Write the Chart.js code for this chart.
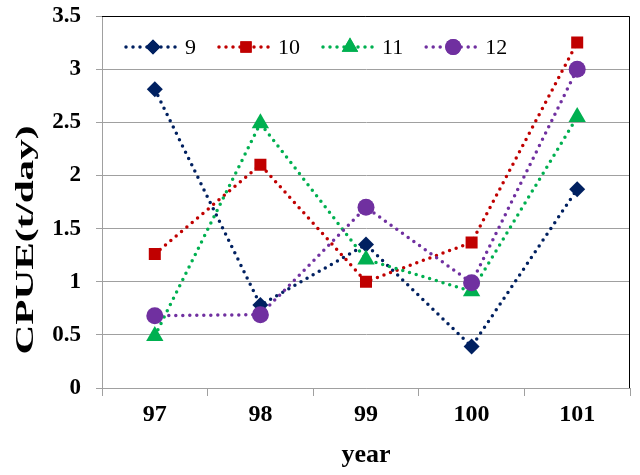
<!DOCTYPE html>
<html>
<head>
<meta charset="utf-8">
<script src="https://cdn.jsdelivr.net/npm/chart.js@4.4.0/dist/chart.umd.min.js"></script>
<style>
  html, body { margin: 0; padding: 0; background: #fff; }
  #wrap { width: 640px; height: 475px; }
</style>
</head>
<body>
<div id="wrap"><canvas id="cpue"></canvas></div>
<script>
'use strict';

var years = ['97', '98', '99', '100', '101'];
var seriesNames = ['9', '10', '11', '12'];
var cpue9 = [2.81, 0.78, 1.35, 0.39, 1.87];
var cpue10 = [1.26, 2.10, 1.00, 1.37, 3.25];
var cpue11 = [0.49, 2.49, 1.21, 0.91, 2.55];
var cpue12 = [0.68, 0.69, 1.70, 0.99, 3.00];
var yMin = 0;
var yMax = 3.5;
var yStep = 0.5;

var colors = ['#002060', '#c00000', '#00b050', '#7030a0'];
var markers = ['rectRot', 'rect', 'triangle', 'circle'];
var radii = [8, 8.5, 10, 8.5];
var allData = [cpue9, cpue10, cpue11, cpue12];

var serif = '"Liberation Serif", "Times New Roman", serif';

var datasets = [];
for (var i = 0; i < seriesNames.length; i++) {
  datasets.push({
    label: seriesNames[i],
    data: allData[i],
    borderColor: colors[i],
    backgroundColor: colors[i],
    borderWidth: 3.5,
    borderDash: [0, 7],
    borderCapStyle: 'round',
    pointStyle: markers[i],
    pointRadius: radii[i],
    pointHoverRadius: radii[i],
    pointBorderWidth: 0,
    pointBackgroundColor: colors[i],
    tension: 0,
    fill: false,
    order: seriesNames.length - i
  });
}

// legend sits inside the plot, dotted line with marker in the middle
var insideLegend = {
  id: 'insideLegend',
  afterDraw: function(chart) {
    var ctx = chart.ctx;
    var x0 = 126;
    var y = 47;
    ctx.save();
    for (var i = 0; i < datasets.length; i++) {
      ctx.strokeStyle = colors[i];
      ctx.lineWidth = 3.5;
      ctx.lineCap = 'round';
      ctx.setLineDash([0, 7]);
      ctx.beginPath();
      ctx.moveTo(x0, y);
      ctx.lineTo(x0 + 50, y);
      ctx.stroke();
      ctx.setLineDash([]);
      ctx.fillStyle = colors[i];
      Chart.helpers.drawPoint(ctx, {
        pointStyle: markers[i], radius: radii[i] - 0.5, rotation: 0, borderWidth: 0
      }, x0 + 27, y);
      ctx.fill();
      ctx.fillStyle = '#000';
      ctx.font = '22px ' + serif;
      ctx.textAlign = 'left';
      ctx.textBaseline = 'middle';
      ctx.fillText(seriesNames[i], x0 + 59, y + 1);
      x0 = x0 + 59 + ctx.measureText(seriesNames[i]).width + 23;
    }
    ctx.restore();
  }
};

// black top and right edge of the plot, tall y title
var frame = {
  id: 'frame',
  afterDraw: function(chart) {
    var a = chart.chartArea;
    var ctx = chart.ctx;
    ctx.save();
    ctx.strokeStyle = '#000';
    ctx.lineWidth = 1;
    ctx.beginPath();
    ctx.moveTo(a.left, a.top + 0.5);
    ctx.lineTo(a.right - 0.5, a.top + 0.5);
    ctx.lineTo(a.right - 0.5, a.bottom);
    ctx.stroke();

    ctx.translate(27, 240);
    ctx.rotate(-Math.PI / 2);
    ctx.scale(1.65, 1);
    ctx.font = 'bold 25px ' + serif;
    ctx.fillStyle = '#000';
    ctx.textAlign = 'center';
    ctx.textBaseline = 'middle';
    ctx.fillText('CPUE(t/day)', 0, 0);
    ctx.restore();
  }
};

new Chart(document.getElementById('cpue').getContext('2d'), {
  type: 'line',
  data: { labels: years, datasets: datasets },
  plugins: [insideLegend, frame],
  options: {
    responsive: true,
    maintainAspectRatio: false,
    animation: false,
    layout: { padding: { top: 16, right: 9, left: 0, bottom: 0 } },
    plugins: {
      legend: { display: false },
      tooltip: { enabled: false }
    },
    scales: {
      x: {
        offset: true,
        grid: { offset: true, drawOnChartArea: false, drawTicks: true, tickLength: 8, color: '#a0a0a0' },
        border: { color: '#a0a0a0' },
        ticks: { color: '#000', padding: 4, font: { family: serif, size: 24, weight: 'bold' } },
        title: { display: true, text: 'year', color: '#000', padding: { top: 0, bottom: 4 },
                 font: { family: serif, size: 26, weight: 'bold' } },
        afterFit: function(s) { s.height = 87; }
      },
      y: {
        min: yMin,
        max: yMax,
        ticks: {
          stepSize: yStep, color: '#000', padding: 15,
          font: { family: serif, size: 23, weight: 'bold' },
          callback: function(v) { return String(Number(v.toFixed(1))); }
        },
        grid: { color: '#a0a0a0', tickLength: 6 },
        border: { color: '#a0a0a0' },
        afterFit: function(s) {
          s.width = 102;
          s.paddingTop = 0;
          s.paddingBottom = 0;
        }
      }
    }
  }
});
</script>
</body>
</html>
